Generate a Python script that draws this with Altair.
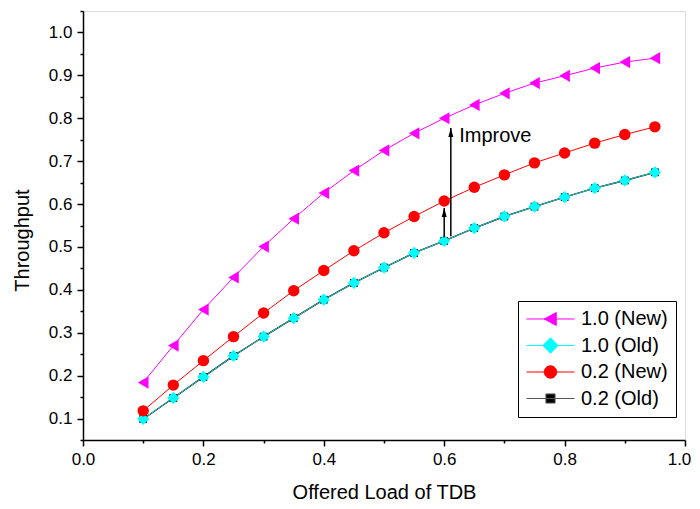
import altair as alt
import pandas as pd

# ---------------- data ----------------
x_vals = [0.10, 0.15, 0.20, 0.25, 0.30, 0.35, 0.40, 0.45, 0.50,
          0.55, 0.60, 0.65, 0.70, 0.75, 0.80, 0.85, 0.90, 0.95]
new_10 = [0.184, 0.270, 0.354, 0.429, 0.501, 0.566, 0.626, 0.678, 0.725,
          0.765, 0.800, 0.831, 0.858, 0.882, 0.899, 0.917, 0.931, 0.940]
old_10 = [0.099, 0.148, 0.197, 0.246, 0.291, 0.334, 0.377, 0.416, 0.452,
          0.486, 0.514, 0.544, 0.571, 0.594, 0.616, 0.637, 0.655, 0.674]
new_02 = [0.118, 0.178, 0.235, 0.291, 0.346, 0.398, 0.445, 0.491, 0.533,
          0.571, 0.607, 0.639, 0.668, 0.696, 0.719, 0.742, 0.762, 0.780]
old_02 = [0.099, 0.148, 0.197, 0.246, 0.291, 0.334, 0.377, 0.416, 0.452,
          0.486, 0.514, 0.544, 0.571, 0.594, 0.616, 0.637, 0.655, 0.674]

series_names = ["1.0 (New)", "1.0 (Old)", "0.2 (New)", "0.2 (Old)"]
fill_colors = ["#FF00FF", "#00FFFF", "#FF0000", "#000000"]
line_colors = ["#FF00FF", "#00FFFF", "#FF0000", "#555555"]

# annotation
arrow_x = [0.600, 0.611]
arrow_y0 = [0.522, 0.525]
arrow_y1 = [0.591, 0.777]
note_x = [0.625]
note_y = [0.758]
note_text = ["Improve"]

x_ticks = [round(i * 0.1, 2) for i in range(11)]
y_ticks = [round(0.05 + i * 0.05, 2) for i in range(21)]

# ---------------- tables ----------------
rows = []
for name, ys in zip(series_names, [new_10, old_10, new_02, old_02]):
    for xv, yv in zip(x_vals, ys):
        rows.append({"x": xv, "y": yv, "series": name})
df = pd.DataFrame(rows)
arrows = pd.DataFrame({"x": arrow_x, "y": arrow_y0, "y2": arrow_y1})
notes = pd.DataFrame({"x": note_x, "y": note_y, "label": note_text})

FONT = "Liberation Sans"

xscale = alt.Scale(domain=[0, 1], nice=False, zero=False)
yscale = alt.Scale(domain=[0.05, 1.05], nice=False, zero=False)

xaxis = alt.Axis(
    title="Offered Load of TDB", values=x_ticks,
    labelExpr="round(datum.value*10)%2==0 ? format(datum.value,'.1f') : ''",
    grid=False, tickSize=alt.expr("round(datum.value*10)%2==0 ? 6 : 3"),
    tickWidth=1.5, tickColor="black",
    domainColor="black", domainWidth=1.5,
    labelFont=FONT, labelFontSize=17, labelColor="black", labelPadding=5,
    labelFlush=False, labelOverlap=False,
    labelOffset={"condition": {"test": "datum.value >= 0.99", "value": -6}, "value": 0},
    titleFont=FONT, titleFontSize=20, titleFontWeight="normal",
    titleColor="black", titlePadding=15,
)
yaxis = alt.Axis(
    title="Throughput", values=y_ticks,
    labelExpr="round(datum.value*20)%2==0 ? format(datum.value,'.1f') : ''",
    grid=False, tickSize=alt.expr("round(datum.value*20)%2==0 ? 6 : 3"),
    tickWidth=1.5, tickColor="black",
    domainColor="black", domainWidth=1.5,
    labelFont=FONT, labelFontSize=17, labelColor="black", labelPadding=5,
    labelFlush=False, labelOverlap=False,
    titleFont=FONT, titleFontSize=20, titleFontWeight="normal",
    titleColor="black", titlePadding=16, titleY=229,
)

X = alt.X("x:Q", scale=xscale, axis=xaxis)
Y = alt.Y("y:Q", scale=yscale, axis=yaxis)

base = alt.Chart(df)


def series_layers(name, color, shape, size, line_width, line_color=None):
    d = base.transform_filter(alt.datum.series == name)
    line = d.mark_line(color=line_color or color, strokeWidth=line_width).encode(x=X, y=Y)
    pts = d.mark_point(filled=True, opacity=1, color=color, shape=shape, size=size).encode(x=X, y=Y)
    return line, pts


l_o02, p_o02 = series_layers("0.2 (Old)", "#000000", "square", 60, 1.4)
l_o10, p_o10 = series_layers("1.0 (Old)", "#00FFFF", "diamond", 150, 1.0, "#22cccc")
l_n02, p_n02 = series_layers("0.2 (New)", "#FF0000", "circle", 130, 1.0)
l_n10, p_n10 = series_layers("1.0 (New)", "#FF00FF", "triangle-left", 150, 1.0)

# arrows
arrow_lines = alt.Chart(arrows).mark_rule(color="black", strokeWidth=1.5).encode(
    x=X, y=Y, y2="y2:Q")
arrow_heads = alt.Chart(arrows).mark_point(
    filled=True, opacity=1, color="black", size=100,
    shape="M0,0L0.5,1.8L-0.5,1.8Z").encode(
    x=X, y=alt.Y("y2:Q", scale=yscale, axis=yaxis))
note = alt.Chart(notes).mark_text(
    align="left", baseline="middle", font=FONT, fontSize=20, color="black").encode(
    x=X, y=Y, text="label:N")

# legend-only layer (no marks drawn)
legend_shapes = [
    "M-1,0H1M-0.26,0L0.24,-0.27L0.24,0.27Z",
    "M-1,0H1M-0.32,0L0,-0.32L0.32,0L0,0.32Z",
    "M-1,0H1M-0.26,0A0.26,0.26,0,1,0,0.26,0A0.26,0.26,0,1,0,-0.26,0Z",
    "M-1,0H1M-0.19,-0.19H0.19V0.19H-0.19Z",
]
leg = alt.Legend(
    title=None, orient="none", legendX=435, legendY=290,
    symbolSize=2304, symbolStrokeWidth=1, labelFont=FONT, labelFontSize=20,
    labelColor="black", labelOffset=6, padding=8, rowPadding=6.5, clipHeight=20,
    strokeColor="black", fillColor="white",
)
legend_layer = base.transform_filter("false").mark_point(
    filled=True, opacity=1, strokeWidth=1).encode(
    x=X, y=Y,
    fill=alt.Fill("series:N", scale=alt.Scale(domain=series_names, range=fill_colors), legend=leg),
    stroke=alt.Stroke("series:N", scale=alt.Scale(domain=series_names, range=line_colors), legend=leg),
    shape=alt.Shape("series:N", scale=alt.Scale(domain=series_names, range=legend_shapes), legend=leg),
)

chart = alt.layer(
    l_o02, l_o10, p_o02, p_o10, l_n02, p_n02, l_n10, p_n10,
    arrow_lines, arrow_heads, note, legend_layer,
).properties(
    width=602, height=429,
    autosize=alt.AutoSizeParams(type="none"),
    padding={"left": 75, "top": 3, "right": 7, "bottom": 61},
).configure_view(stroke=None).configure(background="white")

chart.save("out.html", embed_options={"renderer": "svg", "actions": False})
